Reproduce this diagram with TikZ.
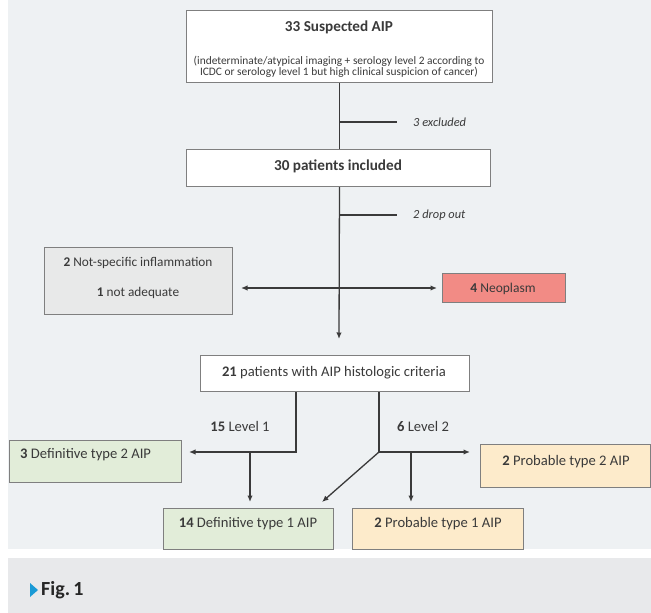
\documentclass[tikz,border=0pt]{standalone}
\usepackage{fontspec}
\setmainfont{Carlito}
\usetikzlibrary{arrows.meta}
\definecolor{panelgray}{HTML}{EEF1F3}
\definecolor{captiongray}{HTML}{E8E9EB}
\definecolor{boxline}{HTML}{7F7F7F}
\definecolor{inkgray}{HTML}{3A3A3A}
\definecolor{sidegray}{HTML}{E8E9E9}
\definecolor{neored}{HTML}{F28B85}
\definecolor{defgreen}{HTML}{E2EDD9}
\definecolor{probpeach}{HTML}{FDEBCB}
\definecolor{figblue}{HTML}{1A9AD6}
\tikzset{
  box/.style={draw=boxline, line width=1pt, fill=white, inner sep=0pt, anchor=north west},
  txt/.style={text=inkgray, font=\fontsize{14.6}{17}\selectfont, inner sep=0pt},
  note/.style={text=inkgray, font=\fontsize{12.4}{14}\selectfont\itshape, inner sep=0pt, anchor=west},
  flow/.style={draw=inkgray, line width=1.3pt}
}
\begin{document}
\begin{tikzpicture}[x=1pt, y=-1pt, >={Latex[length=6.5pt,width=5.5pt]}]

    % 1. Nền
    \useasboundingbox (0,0) rectangle (651,613);
    \fill[panelgray] (8,0) rectangle (651,549);
    \fill[captiongray] (8,558) rectangle (651,613);

    % 2. Các hộp
    \node[box, minimum width=306, minimum height=72] (suspected) at (186,10) {};
    \node[txt, font=\fontsize{15.2}{17}\selectfont\bfseries] (suspectedtitle) at (339,27) {33 Suspected AIP};
    \node[txt, font=\fontsize{11.4}{11.5}\selectfont, align=center] (suspectedinfo) at (339,67)
        {(indeterminate/atypical imaging + serology level 2 according to\\ICDC or serology level 1 but high clinical suspicion of cancer)};

    \node[box, minimum width=304, minimum height=37] (included) at (186,149) {};
    \node[txt, font=\fontsize{15.2}{17}\selectfont\bfseries] (includedtext) at (338,166) {30 patients included};

    \node[box, fill=sidegray, minimum width=188, minimum height=67] (nonspecific) at (44,247) {};
    \node[txt, font=\fontsize{13.3}{15}\selectfont, align=center] (nonspecifictext) at (138,278)
        {\textbf{2} Not-specific inflammation\\[15pt]\textbf{1} not adequate};

    \node[box, fill=neored, minimum width=123, minimum height=29] (neoplasm) at (442,273) {};
    \node[txt, font=\fontsize{13.5}{15}\selectfont] (neoplasmtext) at (503,289) {\textbf{4} Neoplasm};

    \node[box, minimum width=269, minimum height=36] (histologic) at (200,355) {};
    \node[txt] (histologictext) at (334,373) {\textbf{21} patients with AIP histologic criteria};

    \node[box, fill=defgreen, minimum width=172, minimum height=42] (deftwo) at (9,440) {};
    \node[txt, anchor=west] (deftwotext) at (20,455) {\textbf{3} Definitive type 2 AIP};

    \node[box, fill=defgreen, minimum width=170, minimum height=41] (defone) at (163,508) {};
    \node[txt] (defonetext) at (248,524) {\textbf{14} Definitive type 1 AIP};

    \node[box, fill=probpeach, minimum width=170, minimum height=43] (probtwo) at (480,444) {};
    \node[txt] (probtwotext) at (566,462) {\textbf{2} Probable type 2 AIP};

    \node[box, fill=probpeach, minimum width=171, minimum height=41] (probone) at (352,508) {};
    \node[txt] (probonetext) at (438,524) {\textbf{2} Probable type 1 AIP};

    % 3. Đường nối phần trên
    \coordinate (excltick) at (397,122);
    \coordinate (droptick) at (397,215);
    \coordinate (mainend) at (339,339);
    \draw[flow] (suspected.south) -- (suspected.south |- included.north);
    \draw[flow] (suspected.south |- excltick) -- (excltick);
    \node[note] (excluded) at (413,122) {3 excluded};
    \draw[flow, ->] (suspected.south |- included.south) -- (mainend);
    \draw[flow] (suspected.south |- droptick) -- (droptick);
    \node[note] (dropout) at (413,215) {2 drop out};
    \draw[flow, <->, shorten <=8pt, shorten >=5pt] (neoplasm.west -| nonspecific.east) -- (neoplasm.west);

    % 4. Nhánh Level 1 và Level 2
    \coordinate (lvlone) at (296,452);
    \coordinate (lvlonedown) at (250,452);
    \coordinate (lvltwo) at (379,452);
    \coordinate (lvltwodown) at (411,452);
    \coordinate (diagend) at (322,502);
    \draw[flow, ->, shorten >=7pt] (histologic.south -| lvlone) -- (lvlone) -- (deftwo.east |- lvlone);
    \draw[flow, ->, shorten >=6pt] (lvlonedown) -- (lvlonedown |- defone.north);
    \draw[flow, ->, shorten >=10pt] (histologic.south -| lvltwo) -- (lvltwo) -- (probtwo.west |- lvltwo);
    \draw[flow, ->, shorten >=6pt] (lvltwodown) -- (lvltwodown |- probone.north);
    \draw[flow, ->] (lvltwo) -- (diagend);
    \node[txt] (levelone) at (240,426) {\textbf{15} Level 1};
    \node[txt] (leveltwo) at (423,426) {\textbf{6} Level 2};

    % 5. Chú thích
    \fill[figblue] (30,583) -- (38,590) -- (30,597) -- cycle;
    \node[txt, anchor=west, font=\fontsize{20}{22}\selectfont\bfseries, text=black!85] (figlabel) at (41,590) {Fig.\,1};

\end{tikzpicture}
\end{document}
